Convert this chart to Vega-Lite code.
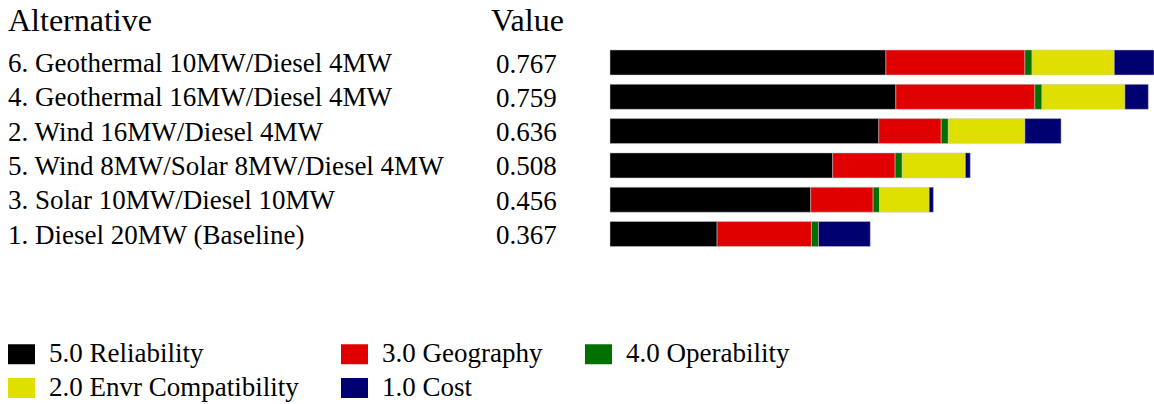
{
  "$schema": "https://vega.github.io/schema/vega-lite/v6.json",
  "width": 1154,
  "height": 404,
  "autosize": "none",
  "padding": 0,
  "background": "white",
  "config": {"view": {"stroke": null}, "font": "Liberation Serif"},
  "datasets": {
    "segments": [
      {"alt": "6. Geothermal 10MW/Diesel 4MW", "crit": "5.0 Reliability", "ord": 1, "val": 0.389},
      {"alt": "6. Geothermal 10MW/Diesel 4MW", "crit": "3.0 Geography", "ord": 2, "val": 0.196},
      {"alt": "6. Geothermal 10MW/Diesel 4MW", "crit": "4.0 Operability", "ord": 3, "val": 0.010},
      {"alt": "6. Geothermal 10MW/Diesel 4MW", "crit": "2.0 Envr Compatibility", "ord": 4, "val": 0.116},
      {"alt": "6. Geothermal 10MW/Diesel 4MW", "crit": "1.0 Cost", "ord": 5, "val": 0.056},
      {"alt": "4. Geothermal 16MW/Diesel 4MW", "crit": "5.0 Reliability", "ord": 1, "val": 0.403},
      {"alt": "4. Geothermal 16MW/Diesel 4MW", "crit": "3.0 Geography", "ord": 2, "val": 0.196},
      {"alt": "4. Geothermal 16MW/Diesel 4MW", "crit": "4.0 Operability", "ord": 3, "val": 0.010},
      {"alt": "4. Geothermal 16MW/Diesel 4MW", "crit": "2.0 Envr Compatibility", "ord": 4, "val": 0.117},
      {"alt": "4. Geothermal 16MW/Diesel 4MW", "crit": "1.0 Cost", "ord": 5, "val": 0.033},
      {"alt": "2. Wind 16MW/Diesel 4MW", "crit": "5.0 Reliability", "ord": 1, "val": 0.379},
      {"alt": "2. Wind 16MW/Diesel 4MW", "crit": "3.0 Geography", "ord": 2, "val": 0.088},
      {"alt": "2. Wind 16MW/Diesel 4MW", "crit": "4.0 Operability", "ord": 3, "val": 0.010},
      {"alt": "2. Wind 16MW/Diesel 4MW", "crit": "2.0 Envr Compatibility", "ord": 4, "val": 0.108},
      {"alt": "2. Wind 16MW/Diesel 4MW", "crit": "1.0 Cost", "ord": 5, "val": 0.051},
      {"alt": "5. Wind 8MW/Solar 8MW/Diesel 4MW", "crit": "5.0 Reliability", "ord": 1, "val": 0.314},
      {"alt": "5. Wind 8MW/Solar 8MW/Diesel 4MW", "crit": "3.0 Geography", "ord": 2, "val": 0.088},
      {"alt": "5. Wind 8MW/Solar 8MW/Diesel 4MW", "crit": "4.0 Operability", "ord": 3, "val": 0.010},
      {"alt": "5. Wind 8MW/Solar 8MW/Diesel 4MW", "crit": "2.0 Envr Compatibility", "ord": 4, "val": 0.089},
      {"alt": "5. Wind 8MW/Solar 8MW/Diesel 4MW", "crit": "1.0 Cost", "ord": 5, "val": 0.007},
      {"alt": "3. Solar 10MW/Diesel 10MW", "crit": "5.0 Reliability", "ord": 1, "val": 0.283},
      {"alt": "3. Solar 10MW/Diesel 10MW", "crit": "3.0 Geography", "ord": 2, "val": 0.088},
      {"alt": "3. Solar 10MW/Diesel 10MW", "crit": "4.0 Operability", "ord": 3, "val": 0.009},
      {"alt": "3. Solar 10MW/Diesel 10MW", "crit": "2.0 Envr Compatibility", "ord": 4, "val": 0.070},
      {"alt": "3. Solar 10MW/Diesel 10MW", "crit": "1.0 Cost", "ord": 5, "val": 0.006},
      {"alt": "1. Diesel 20MW (Baseline)", "crit": "5.0 Reliability", "ord": 1, "val": 0.151},
      {"alt": "1. Diesel 20MW (Baseline)", "crit": "3.0 Geography", "ord": 2, "val": 0.133},
      {"alt": "1. Diesel 20MW (Baseline)", "crit": "4.0 Operability", "ord": 3, "val": 0.010},
      {"alt": "1. Diesel 20MW (Baseline)", "crit": "2.0 Envr Compatibility", "ord": 4, "val": 0.0},
      {"alt": "1. Diesel 20MW (Baseline)", "crit": "1.0 Cost", "ord": 5, "val": 0.073}
    ],
    "alts": [
      {"alt": "6. Geothermal 10MW/Diesel 4MW", "total": 0.767},
      {"alt": "4. Geothermal 16MW/Diesel 4MW", "total": 0.759},
      {"alt": "2. Wind 16MW/Diesel 4MW", "total": 0.636},
      {"alt": "5. Wind 8MW/Solar 8MW/Diesel 4MW", "total": 0.508},
      {"alt": "3. Solar 10MW/Diesel 10MW", "total": 0.456},
      {"alt": "1. Diesel 20MW (Baseline)", "total": 0.367}
    ]
  },
  "layer": [
    {
      "data": {"name": "segments"},
      "mark": {"type": "bar", "stroke": "#c8c8c8", "strokeWidth": 0.5},
      "encoding": {
        "y": {
          "field": "alt", "type": "nominal",
          "scale": {
            "domain": ["6. Geothermal 10MW/Diesel 4MW", "4. Geothermal 16MW/Diesel 4MW", "2. Wind 16MW/Diesel 4MW", "5. Wind 8MW/Solar 8MW/Diesel 4MW", "3. Solar 10MW/Diesel 10MW", "1. Diesel 20MW (Baseline)"],
            "range": [45.35, 251.15], "paddingInner": 0.271, "paddingOuter": 0.1355
          },
          "axis": null
        },
        "x": {
          "field": "val", "type": "quantitative", "stack": "zero",
          "scale": {"domain": [0, 0.767], "range": [610, 1154], "nice": false},
          "axis": null
        },
        "color": {
          "field": "crit", "type": "nominal",
          "scale": {
            "domain": ["5.0 Reliability", "3.0 Geography", "4.0 Operability", "2.0 Envr Compatibility", "1.0 Cost"],
            "range": ["#000000", "#E00000", "#007000", "#E0E000", "#000070"]
          },
          "legend": {
            "orient": "none", "legendX": 8, "legendY": 340.5, "columns": 3, "direction": "horizontal",
            "title": null, "symbolType": "M-1,-0.74L1,-0.74L1,0.74L-1,0.74Z", "symbolSize": 729, "symbolStrokeWidth": 0, "symbolOpacity": 1,
            "labelFontSize": 27, "labelFont": "Liberation Serif", "labelColor": "#000000", "labelLimit": 0,
            "columnPadding": 42, "rowPadding": 6, "labelOffset": 14
          }
        },
        "order": {"field": "ord", "type": "quantitative"}
      }
    },
    {
      "data": {"name": "alts"},
      "mark": {"type": "text", "align": "left", "baseline": "alphabetic", "dy": 9.5, "fontSize": 27, "font": "Liberation Serif", "x": 8, "color": "#000000"},
      "encoding": {
        "y": {"field": "alt", "type": "nominal"},
        "text": {"field": "alt", "type": "nominal"}
      }
    },
    {
      "data": {"name": "alts"},
      "mark": {"type": "text", "align": "left", "baseline": "alphabetic", "dy": 10, "fontSize": 27, "font": "Liberation Serif", "x": 496, "color": "#000000"},
      "encoding": {
        "y": {"field": "alt", "type": "nominal"},
        "text": {"field": "total", "type": "quantitative", "format": ".3f"}
      }
    },
    {
      "data": {"values": [{"h": "Alternative"}]},
      "mark": {"type": "text", "align": "left", "baseline": "alphabetic", "fontSize": 32, "font": "Liberation Serif", "x": 8, "y": 30.5, "color": "#000000"},
      "encoding": {"text": {"field": "h", "type": "nominal"}}
    },
    {
      "data": {"values": [{"h": "Value"}]},
      "mark": {"type": "text", "align": "left", "baseline": "alphabetic", "fontSize": 32, "font": "Liberation Serif", "x": 491, "y": 30.5, "color": "#000000"},
      "encoding": {"text": {"field": "h", "type": "nominal"}}
    }
  ]
}
